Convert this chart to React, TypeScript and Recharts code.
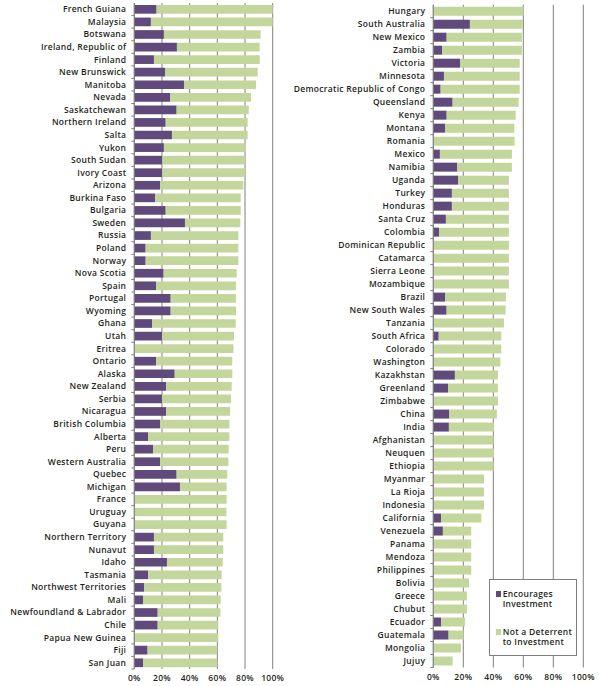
import { BarChart, Bar, XAxis, YAxis, CartesianGrid, Legend } from "recharts";

const leftCategories = [
  "French Guiana", "Malaysia", "Botswana", "Ireland, Republic of", "Finland", "New Brunswick",
  "Manitoba", "Nevada", "Saskatchewan", "Northern Ireland", "Salta", "Yukon", "South Sudan",
  "Ivory Coast", "Arizona", "Burkina Faso", "Bulgaria", "Sweden", "Russia", "Poland", "Norway",
  "Nova Scotia", "Spain", "Portugal", "Wyoming", "Ghana", "Utah", "Eritrea", "Ontario", "Alaska",
  "New Zealand", "Serbia", "Nicaragua", "British Columbia", "Alberta", "Peru", "Western Australia",
  "Quebec", "Michigan", "France", "Uruguay", "Guyana", "Northern Territory", "Nunavut", "Idaho",
  "Tasmania", "Northwest Territories", "Mali", "Newfoundland & Labrador", "Chile",
  "Papua New Guinea", "Fiji", "San Juan",
];
const leftEncourages = [
  16.1, 12, 21.4, 30.8, 14.2, 22.2, 35.9, 25.8, 30.6, 22.7, 27.2, 21.4, 20.2, 20.2, 18.6, 15.2, 22.7,
  36.6, 12, 8.2, 8.2, 21.2, 15.7, 26.3, 26.3, 13, 20, 0, 15.7, 29.2, 23.1, 20, 22.9, 18.8, 10.1, 13.5,
  18.6, 30.6, 33, 0, 0, 0, 14.2, 14.2, 23.6, 10.1, 7, 6.3, 16.9, 16.9, 0, 9.6, 6.5,
];
const leftNotDeterrent = [
  83.9, 88, 69.9, 59.8, 76.4, 67, 52.1, 58.5, 52.1, 59.2, 54.7, 59.1, 60, 60, 60.2, 61.7, 54.2, 40,
  63.2, 67, 67, 52.8, 57.8, 47.2, 47.2, 60.3, 52, 71.6, 55.1, 41.6, 47.3, 49.9, 46.3, 49.9, 58.6,
  54.7, 49.4, 36.6, 33.7, 66.7, 66.5, 66.7, 50.1, 50.1, 40.3, 53, 55.9, 56.1, 45.3, 43.8, 60.7, 50.4,
  53.5,
];

const rightCategories = [
  "Hungary", "South Australia", "New Mexico", "Zambia", "Victoria", "Minnesota",
  "Democratic Republic of Congo", "Queensland", "Kenya", "Montana", "Romania", "Mexico", "Namibia",
  "Uganda", "Turkey", "Honduras", "Santa Cruz", "Colombia", "Dominican Republic", "Catamarca",
  "Sierra Leone", "Mozambique", "Brazil", "New South Wales", "Tanzania", "South Africa", "Colorado",
  "Washington", "Kazakhstan", "Greenland", "Zimbabwe", "China", "India", "Afghanistan", "Neuquen",
  "Ethiopia", "Myanmar", "La Rioja", "Indonesia", "California", "Venezuela", "Panama", "Mendoza",
  "Philippines", "Bolivia", "Greece", "Chubut", "Ecuador", "Guatemala", "Mongolia", "Jujuy",
];
const rightEncourages = [
  0, 24.4, 8.9, 5.8, 17.8, 7.1, 4.9, 12.9, 8.9, 7.8, 0, 4.4, 16, 16.7, 12.4, 12.4, 8.4, 3.8, 0, 0, 0,
  0, 7.8, 8.9, 0, 3.6, 0, 0, 14.4, 9.8, 0, 10.7, 10.4, 0, 0, 0, 0, 0, 0, 5.3, 6.4, 0, 0, 0, 0, 0, 0,
  5.3, 10.2, 0, 0,
];
const rightNotDeterrent = [
  60.2, 35.4, 50.2, 53.3, 39.8, 50.5, 52.7, 44, 46, 46.2, 54.2, 48, 36.4, 33.7, 38, 38, 42, 46.6,
  50.4, 50.4, 50.4, 50.4, 40.6, 39.3, 47.1, 41.7, 45.3, 44.7, 28.7, 33.3, 43.1, 31.7, 30, 40.2, 40.4,
  40.2, 33.8, 33.8, 33.8, 26.7, 18.9, 25.3, 25.3, 25.3, 23.8, 22.4, 22.4, 15.8, 10, 18.4, 12.9,
];

const xTicks = [0, 20, 40, 60, 80, 100];

const PURPLE = "#604a7b";
const GREEN = "#c3d69b";
const GRID = "#808080";
const TEXT = "#231f20";
const FONT = "'Open Sans', sans-serif";
const FONT_SIZE = 8.5;
const SPACING = 0.3;
const CHART_H = 686;

const CategoryTick = (props: any) => {
  const { x, y, payload, band } = props;
  return (
    <g>
      <text
        x={x - 8}
        y={y}
        dy={3}
        textAnchor="end"
        fontSize={FONT_SIZE}
        fontWeight={600}
        fontFamily={FONT}
        letterSpacing={SPACING}
        fill={TEXT}
      >
        {payload.value}
      </text>
      <line x1={x - 3} x2={x} y1={y + band / 2} y2={y + band / 2} stroke={GRID} />
    </g>
  );
};

const renderLegend = (props: any) => {
  const { payload } = props;
  return (
    <div
      style={{
        boxSizing: "border-box",
        width: "100%",
        height: "100%",
        border: "1px solid #7f7f7f",
        background: "#fff",
        padding: "9px 1px 0 6px",
        fontFamily: FONT,
        fontSize: FONT_SIZE,
        fontWeight: 600,
        letterSpacing: SPACING,
        color: TEXT,
      }}
    >
      {(payload || []).map((entry: any) => (
        <div
          key={entry.value}
          style={{ display: "flex", alignItems: "flex-start", marginBottom: 18.6, lineHeight: "9.7px" }}
        >
          <span
            style={{
              width: 5,
              height: 5.5,
              background: entry.color,
              marginTop: 2,
              marginRight: 2,
              flexShrink: 0,
            }}
          />
          <span>{entry.value}</span>
        </div>
      ))}
    </div>
  );
};

type PanelProps = {
  categories: string[];
  encourages: number[];
  notDeterrent: number[];
  left: number;
  width: number;
  axisWidth: number;
  margin: { top: number; right: number; bottom: number; left: number };
  barSize: number;
  showLegend?: boolean;
};

const Panel = ({
  categories,
  encourages,
  notDeterrent,
  left,
  width,
  axisWidth,
  margin,
  barSize,
  showLegend,
}: PanelProps) => {
  const data = categories.map((name, i) => ({
    name,
    encourages: encourages[i],
    notDeterrent: notDeterrent[i],
  }));
  const plotHeight = CHART_H - margin.top - margin.bottom - 14;
  const band = plotHeight / categories.length;
  return (
    <div style={{ position: "absolute", left, top: 0 }}>
      <BarChart width={width} height={CHART_H} data={data} layout="vertical" margin={margin} barSize={barSize}>
        <CartesianGrid horizontal={false} stroke={GRID} />
        <XAxis
          type="number"
          domain={[0, 100]}
          ticks={xTicks}
          tickFormatter={(v) => `${v}%`}
          axisLine={false}
          tickLine={false}
          tickSize={4}
          tickMargin={2}
          height={14}
          interval={0}
          tick={{ fontSize: FONT_SIZE, fontWeight: 600, fontFamily: FONT, fill: TEXT, letterSpacing: SPACING }}
        />
        <YAxis
          type="category"
          dataKey="name"
          width={axisWidth}
          interval={0}
          axisLine={{ stroke: GRID }}
          tickLine={false}
          tickSize={0}
          tickMargin={0}
          tick={(p: any) => <CategoryTick {...p} band={band} />}
        />
        <Bar dataKey="encourages" name="Encourages Investment" stackId="a" fill={PURPLE} isAnimationActive={false} />
        <Bar dataKey="notDeterrent" name="Not a Deterrent to Investment" stackId="a" fill={GREEN} isAnimationActive={false} />
        {showLegend && (
          <Legend
            layout="vertical"
            align="center"
            verticalAlign="middle"
            wrapperStyle={{ left: 198.7, top: 579.3, width: 88.6, height: 76.7 }}
            content={renderLegend}
          />
        )}
      </BarChart>
    </div>
  );
};

export default function App() {
  return (
    <div style={{ position: "absolute", left: 0, top: 0, width: 599, height: CHART_H, background: "#fff" }}>
      <Panel
        categories={leftCategories}
        encourages={leftEncourages}
        notDeterrent={leftNotDeterrent}
        left={0}
        width={290}
        axisWidth={134.3}
        margin={{ top: 3, right: 17.3, bottom: 3, left: 0 }}
        barSize={8.7}
      />
      <Panel
        categories={rightCategories}
        encourages={rightEncourages}
        notDeterrent={rightNotDeterrent}
        left={290}
        width={309}
        axisWidth={143.3}
        margin={{ top: 4.7, right: 15.7, bottom: 4.5, left: 0 }}
        barSize={9}
        showLegend
      />
    </div>
  );
}
